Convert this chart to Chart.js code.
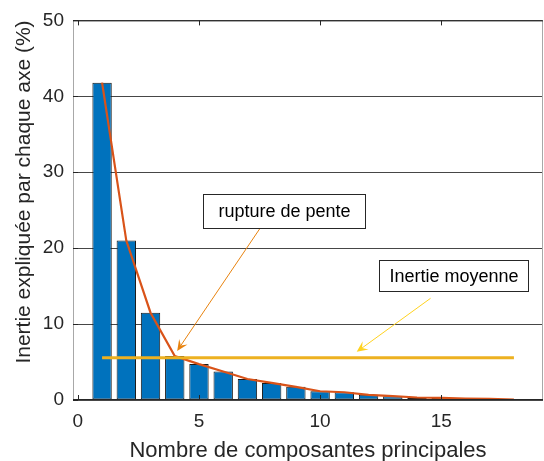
<!DOCTYPE html>
<html>
<head>
<meta charset="utf-8">
<script src="https://cdn.jsdelivr.net/npm/chart.js@4.4.1/dist/chart.umd.min.js"></script>
<style>
  html, body { margin: 0; padding: 0; background: #fff; }
  #wrap { width: 544px; height: 461px; }
</style>
</head>
<body>
<div id="wrap"><canvas id="screeChart" width="544" height="461"></canvas></div>
<script>
// Données
var composantes = [1, 2, 3, 4, 5, 6, 7, 8, 9, 10, 11, 12, 13, 14, 15, 16, 17, 18];
var inertie = [41.8, 21.0, 11.5, 5.78, 4.73, 3.76, 2.77, 2.25, 1.73, 1.15, 1.02, 0.68, 0.5, 0.33, 0.28, 0.2, 0.15, 0.05];
var moyenneX = [1, 18];
var moyenneY = [5.56, 5.56];
var xTicks = [0, 5, 10, 15];
var yTicks = [0, 10, 20, 30, 40, 50];

var FONT = '"Liberation Sans", Arial, sans-serif';
var TEXT = '#262626';
Chart.defaults.font.family = FONT;
Chart.defaults.color = TEXT;

// Annotations (coordonnées en unités des axes)
var annotations = [
    { text: 'rupture de pente', box: [5.17, 27.1, 11.84, 22.7], from: [7.56, 22.8], to: [4.1, 6.47], color: '#E8830F' },
    { text: 'Inertie moyenne', box: [12.42, 18.5, 18.6, 14.31], from: [14.56, 13.4], to: [11.51, 6.34], color: '#FFD21F' }
];

function pts(xs, ys) {
    return xs.map(function(v, i) { return { x: v, y: ys[i] }; });
}

// Cadre et graduations internes
var cadre = {
    id: 'cadre',
    afterDatasetsDraw: function(chart) {
        var ctx = chart.ctx, a = chart.chartArea, x = chart.scales.x, y = chart.scales.y;
        ctx.save();
        ctx.lineWidth = 1;
        ctx.strokeStyle = '#a8a8a8';
        ctx.beginPath();
        ctx.moveTo(a.left + 0.5, a.top); ctx.lineTo(a.left + 0.5, a.bottom);
        ctx.moveTo(a.right - 0.5, a.top); ctx.lineTo(a.right - 0.5, a.bottom);
        ctx.stroke();
        ctx.strokeStyle = TEXT;
        ctx.beginPath();
        ctx.moveTo(a.left, a.top + 0.5); ctx.lineTo(a.right, a.top + 0.5);
        ctx.moveTo(a.left, a.bottom - 0.5); ctx.lineTo(a.right, a.bottom - 0.5);
        xTicks.forEach(function(v) {
            var px = Math.round(x.getPixelForValue(v)) + 0.5;
            ctx.moveTo(px, a.bottom); ctx.lineTo(px, a.bottom - 5);
            ctx.moveTo(px, a.top); ctx.lineTo(px, a.top + 5);
        });
        yTicks.forEach(function(v) {
            var py = Math.round(y.getPixelForValue(v)) + 0.5;
            ctx.moveTo(a.left, py); ctx.lineTo(a.left + 5, py);
        });
        ctx.stroke();
        ctx.restore();
    },
    afterDraw: function(chart) {
        var ctx = chart.ctx, x = chart.scales.x, y = chart.scales.y;
        ctx.save();
        annotations.forEach(function(an) {
            // flèche
            var x0 = x.getPixelForValue(an.from[0]), y0 = y.getPixelForValue(an.from[1]);
            var x1 = x.getPixelForValue(an.to[0]), y1 = y.getPixelForValue(an.to[1]);
            var dx = x1 - x0, dy = y1 - y0, len = Math.sqrt(dx * dx + dy * dy);
            var ux = dx / len, uy = dy / len, nx = -uy, ny = ux;
            var L = 11, W = 10;
            ctx.strokeStyle = an.color;
            ctx.fillStyle = an.color;
            ctx.lineWidth = 1;
            ctx.beginPath();
            ctx.moveTo(x0, y0);
            ctx.lineTo(x1 - ux * L * 0.6, y1 - uy * L * 0.6);
            ctx.stroke();
            ctx.beginPath();
            ctx.moveTo(x1, y1);
            ctx.lineTo(x1 - ux * L + nx * W / 2, y1 - uy * L + ny * W / 2);
            ctx.lineTo(x1 - ux * L * 0.6, y1 - uy * L * 0.6);
            ctx.lineTo(x1 - ux * L - nx * W / 2, y1 - uy * L - ny * W / 2);
            ctx.closePath();
            ctx.fill();
            // boîte de texte
            var bx0 = Math.round(x.getPixelForValue(an.box[0])) + 0.5;
            var by0 = Math.round(y.getPixelForValue(an.box[1])) + 0.5;
            var bx1 = Math.round(x.getPixelForValue(an.box[2])) + 0.5;
            var by1 = Math.round(y.getPixelForValue(an.box[3])) + 0.5;
            ctx.fillStyle = '#fff';
            ctx.fillRect(bx0, by0, bx1 - bx0, by1 - by0);
            ctx.strokeStyle = '#262626';
            ctx.strokeRect(bx0, by0, bx1 - bx0, by1 - by0);
            ctx.fillStyle = '#000';
            ctx.font = '18px ' + FONT;
            ctx.textAlign = 'center';
            ctx.textBaseline = 'middle';
            ctx.fillText(an.text, (bx0 + bx1) / 2, (by0 + by1) / 2 + 1);
        });
        ctx.restore();
    }
};

var ctx = document.getElementById('screeChart');
var chart = new Chart(ctx, {
    type: 'bar',
    data: {
        datasets: [{
            type: 'line',
            label: 'Inertie moyenne',
            data: pts(moyenneX, moyenneY),
            borderColor: '#EDB120',
            borderWidth: 3,
            pointRadius: 0,
            fill: false,
            order: 1
        }, {
            type: 'line',
            label: 'Courbe',
            data: pts(composantes, inertie),
            borderColor: '#D95319',
            borderWidth: 2.2,
            pointRadius: 0,
            tension: 0,
            fill: false,
            order: 2
        }, {
            type: 'bar',
            label: 'Inertie',
            data: pts(composantes, inertie),
            backgroundColor: '#0072BD',
            borderColor: '#1a1a1a',
            borderWidth: 1,
            borderSkipped: false,
            categoryPercentage: 1,
            barPercentage: 0.8,
            order: 3
        }]
    },
    options: {
        responsive: false,
        animation: false,
        devicePixelRatio: 1,
        layout: { padding: { left: 0, right: 1, top: 17, bottom: 0 } },
        scales: {
            x: {
                type: 'linear',
                min: -0.2,
                max: 19.2,
                offset: false,
                afterBuildTicks: function(s) { s.ticks = xTicks.map(function(v) { return { value: v }; }); },
                afterFit: function(s) { s.height = 61; },
                grid: { display: false, drawTicks: false },
                border: { display: false },
                ticks: { padding: 10, font: { size: 19 }, color: TEXT, maxRotation: 0 },
                title: {
                    display: true,
                    text: 'Nombre de composantes principales',
                    font: { size: 22, lineHeight: 0.9 },
                    padding: { top: 0, bottom: 0 },
                    color: TEXT
                }
            },
            y: {
                min: 0,
                max: 50,
                afterBuildTicks: function(s) { s.ticks = yTicks.map(function(v) { return { value: v }; }); },
                afterFit: function(s) { s.width = 73; },
                grid: { color: 'rgba(38,38,38,0.85)', drawTicks: false },
                border: { display: false },
                ticks: { padding: 9, font: { size: 19 }, color: TEXT },
                title: {
                    display: true,
                    text: 'Inertie expliquée par chaque axe (%)',
                    align: 'end',
                    font: { size: 21, lineHeight: 0.9 },
                    padding: { top: 15, bottom: 0 },
                    color: TEXT
                }
            }
        },
        plugins: {
            legend: { display: false },
            tooltip: { enabled: false }
        }
    },
    plugins: [cadre]
});
</script>
</body>
</html>
